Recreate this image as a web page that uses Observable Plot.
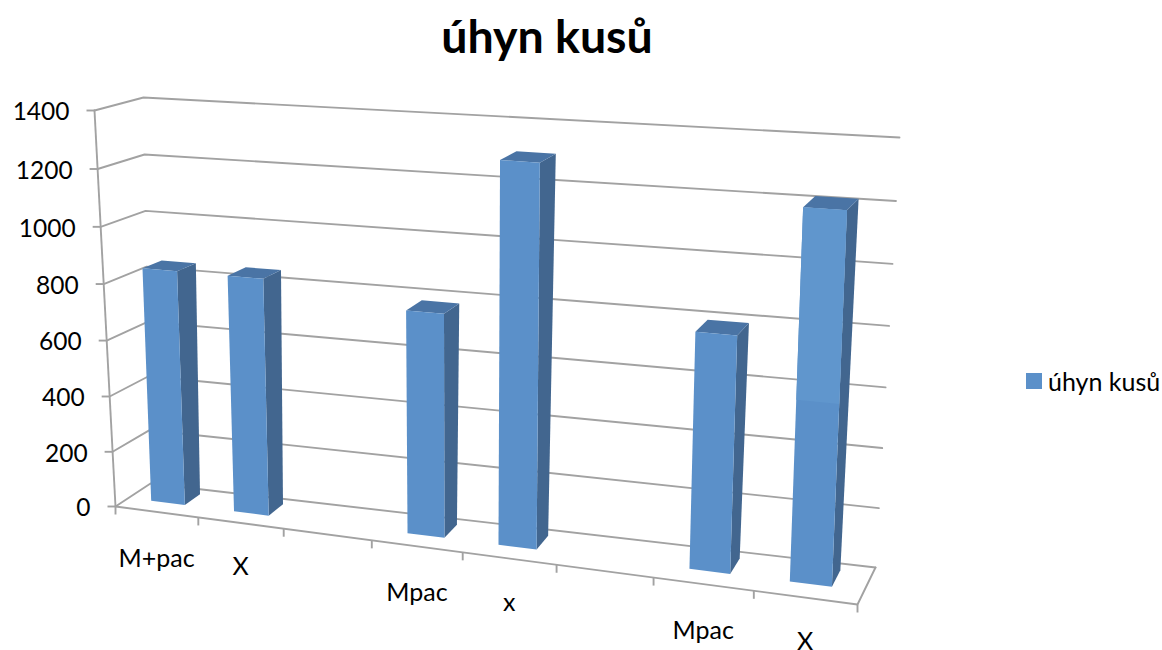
<!DOCTYPE html>
<html><head><meta charset="utf-8">
<script src="https://cdn.jsdelivr.net/npm/d3@7"></script>
<script src="https://cdn.jsdelivr.net/npm/@observablehq/plot@0.6"></script>
<style>
html,body{margin:0;padding:0;background:#fff;width:1162px;height:650px;overflow:hidden;font-family:Lato,sans-serif;color:#000}
#title{height:75px;line-height:70px;text-align:center;font-weight:700;font-size:46.5px;padding-right:68px;box-sizing:border-box}
#legend{position:absolute;left:1026px;top:366px;display:flex;align-items:center;font-size:25px;white-space:nowrap}
#legend i{display:block;width:16px;height:16px;background:#5b90c9;margin-right:6px}
svg{display:block}
</style></head><body>
<div id="title">úhyn kusů</div>
<div id="legend"><i></i><span>úhyn kusů</span></div>
<div id="chart"></div>
<script>
const categories = ["M+pac", "X", "", "Mpac", "x", "", "Mpac", "X"];
const losses = [840, 840, null, 775, 1300, null, 790, 1215];
const valueTicks = [0, 200, 400, 600, 800, 1000, 1200, 1400];
const maxValue = 1400;
const faceKinds = ["front", "side", "top", "sheen"];
const faceColors = ["#5b90c9", "#42668f", "#4a74a5", "#6096cd"];
const sheenBar = 7, sheenFrom = 600;

// 3D camera: the eight screen corners of the chart box (front/back, bottom/top, left/right)
const corners = {
  fbl: [115, 506], fbr: [857, 604], bbl: [150, 483], bbr: [875, 567],
  ftl: [94, 110],  ftr: [873, 161], btl: [143, 97],  btr: [899, 137]
};
const warp = (t, k) => t / (t + k * (1 - t));
const mix = (a, b, t) => [a[0] + (b[0] - a[0]) * t, a[1] + (b[1] - a[1]) * t];
function project(slot, depth, value) {
  const u = warp(slot / categories.length, 1.137);
  const v = warp(value / maxValue, 1.04);
  const fb = mix(corners.fbl, corners.fbr, u), bb = mix(corners.bbl, corners.bbr, u);
  const ft = mix(corners.ftl, corners.ftr, u), bt = mix(corners.btl, corners.btr, u);
  return mix(mix(fb, bb, depth), mix(ft, bt, depth), v);
}
const at = (slot, depth, value) => { const [x, y] = project(slot, depth, value); return {x, y}; };

const barLeft = 0.28, barRight = 0.69, barFront = 0.37, barBack = 0.82;
const faces = [];
categories.forEach((c, i) => {
  const val = losses[i];
  if (val == null) return;
  const a = i + barLeft, b = i + barRight, f = barFront, k = barBack;
  const quads = {
    side: [[b, f, 0], [b, k, 0], [b, k, val], [b, f, val]],
    top: [[a, f, val], [b, f, val], [b, k, val], [a, k, val]],
    front: [[a, f, 0], [b, f, 0], [b, f, val], [a, f, val]]
  };
  if (i === sheenBar) quads.sheen = [[a, f, sheenFrom], [b, f, sheenFrom], [b, f, val], [a, f, val]];
  for (const kind of ["side", "top", "front", "sheen"]) {
    if (quads[kind]) quads[kind].forEach(p => faces.push({id: i + kind, kind, ...at(...p)}));
  }
});

const n = categories.length;
const wallRows = valueTicks.flatMap(v => [
  {id: "g" + v, ...at(0, 0, v)}, {id: "g" + v, ...at(0, 1, v)}, {id: "g" + v, ...at(n, 1, v)}
]);
const boxRows = [
  {id: "axis", ...at(0, 0, 0)}, {id: "axis", ...at(0, 0, maxValue)},
  {id: "floor", ...at(0, 0, 0)}, {id: "floor", ...at(n, 0, 0)}, {id: "floor", ...at(n, 1, 0)}
];
const slotEdges = d3.range(n + 1);
const slots = categories.map((c, i) => ({c, i})).filter(d => d.c);

const chart = Plot.plot({
  width: 1162, height: 575, margin: 0,
  x: {domain: [0, 1162], range: [0, 1162], axis: null},
  y: {domain: [75, 650], range: [0, 575], axis: null},
  color: {domain: faceKinds, range: faceColors},
  style: {background: "#fff", overflow: "visible"},
  marks: [
    Plot.line(wallRows, {x: "x", y: "y", z: "id", stroke: "#a2a2a2", strokeWidth: 1.9}),
    Plot.line(boxRows, {x: "x", y: "y", z: "id", stroke: "#a2a2a2", strokeWidth: 1.9}),
    Plot.link(valueTicks, {
      x1: v => at(0, 0, v).x - 8, x2: v => at(0, 0, v).x,
      y1: v => at(0, 0, v).y, y2: v => at(0, 0, v).y,
      stroke: "#a2a2a2", strokeWidth: 1.9
    }),
    Plot.link(slotEdges, {
      x1: i => at(i, 0, 0).x, x2: i => at(i, 0, 0).x,
      y1: i => at(i, 0, 0).y, y2: i => at(i, 0, 0).y + 8,
      stroke: "#a2a2a2", strokeWidth: 1.9
    }),
    Plot.line(faces, {x: "x", y: "y", z: "id", fill: "kind", stroke: "none", curve: "linear-closed"}),
    Plot.text(valueTicks, {
      x: v => at(0, 0, v).x - 25, y: v => at(0, 0, v).y + 2,
      text: v => String(v), textAnchor: "end", fontSize: 24.5, fontFamily: "Lato", fill: "#000"
    }),
    Plot.text(slots, {
      x: d => at(d.i + 0.5, 0, 0).x,
      y: d => at(d.i + 0.5, 0, 0).y + (d.i % 3 === 0 ? 47 : 44),
      text: "c", fontSize: 25, fontFamily: "Lato", fill: "#000"
    })
  ]
});
document.getElementById("chart").append(chart);
</script>
</body></html>
